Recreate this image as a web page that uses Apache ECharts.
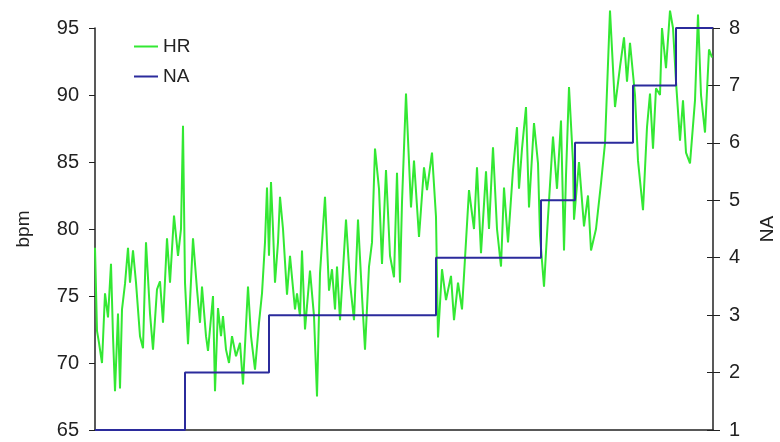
<!DOCTYPE html>
<html>
<head>
<meta charset="utf-8">
<script src="https://cdn.jsdelivr.net/npm/echarts@6/dist/echarts.min.js"></script>
<style>
    html, body { margin: 0; padding: 0; background: #fff; }
    #hr-chart { width: 780px; height: 442px; }
</style>
</head>
<body>
<div id="hr-chart"></div>
<script>
// time in samples, HR in bpm
var hrTime = [0, 2, 4, 7, 10, 13, 16, 18, 20, 23, 25, 27, 30, 33, 35, 38, 41, 45, 48, 51,
    55, 58, 62, 65, 68, 72, 75, 79, 83, 86, 88, 90, 93, 98, 102, 105, 107, 111, 113, 118,
    120, 123, 126, 128, 131, 134, 137, 141, 145, 148, 153, 156, 160, 164, 167, 170, 172, 174, 176, 178,
    180, 183, 185, 188, 192, 195, 197, 200, 202, 205, 207, 210, 215, 219, 222, 225, 230, 234, 237, 240,
    242, 245, 251, 255, 259, 263, 267, 270, 274, 277, 280, 284, 287, 291, 295, 299, 302, 305, 307, 311,
    316, 319, 324, 329, 332, 337, 341, 343, 347, 351, 356, 359, 363, 367, 374, 379, 382, 386, 391, 394,
    398, 402, 406, 409, 413, 418, 422, 424, 427, 431, 434, 439, 443, 445, 449, 453, 458, 462, 466, 469,
    471, 474, 478, 479, 484, 489, 493, 496, 501, 506, 510, 515, 520, 525, 529, 532, 535, 540, 543, 548,
    552, 555, 558, 561, 565, 567, 571, 575, 578, 581, 585, 588, 591, 595, 600, 603, 606, 610, 614, 617];
var hrValues = [78.6, 72.4, 71.5, 70.0, 75.2, 73.4, 77.4, 72.0, 67.9, 73.7, 68.1, 74.0, 75.9, 78.6, 76.0, 78.4, 76.0, 72.0, 71.1, 79.0,
    73.7, 71.0, 75.5, 76.1, 73.0, 79.3, 76.0, 81.0, 78.0, 80.0, 87.7, 76.0, 71.4, 79.3, 75.5, 73.0, 75.7, 72.0, 70.9, 75.0,
    67.9, 74.1, 72.0, 73.5, 71.0, 70.0, 72.0, 70.5, 71.5, 68.4, 75.7, 72.0, 69.5, 73.0, 75.2, 79.0, 83.1, 78.0, 83.5, 80.0,
    76.0, 79.0, 82.4, 80.0, 75.1, 78.0, 78.0, 74.0, 75.2, 73.5, 78.4, 72.5, 76.9, 73.5, 67.5, 76.7, 82.4, 75.4, 77.0, 74.0,
    77.2, 73.2, 80.7, 76.0, 73.2, 80.7, 75.0, 71.0, 77.2, 79.0, 86.0, 83.0, 77.4, 84.4, 78.0, 76.4, 84.2, 76.0, 82.0, 90.1,
    81.6, 85.1, 79.4, 84.6, 82.9, 85.7, 80.9, 71.9, 77.0, 74.7, 76.5, 73.2, 76.0, 74.0, 82.9, 80.0, 84.6, 78.2, 84.3, 80.0,
    86.1, 80.0, 77.2, 83.1, 79.0, 84.4, 87.6, 83.0, 86.0, 89.1, 81.6, 87.9, 84.9, 79.5, 75.7, 80.9, 86.9, 83.0, 88.1, 78.4,
    84.0, 90.6, 85.0, 80.7, 85.0, 80.2, 82.5, 78.4, 80.0, 83.4, 86.4, 96.3, 89.1, 92.1, 94.3, 91.0, 93.9, 90.0, 85.1, 81.4,
    87.6, 90.1, 86.0, 90.5, 90.0, 95.0, 92.0, 96.3, 95.0, 91.0, 86.6, 89.6, 85.7, 84.9, 89.6, 96.0, 90.0, 87.2, 93.4, 92.8];

// NA level and the time it starts
var naTime = [0, 90, 174, 341, 446, 480, 538, 581, 618];
var naValues = [1, 2, 3, 4, 5, 6, 7, 8, 8];

var bpmTicks = [65, 70, 75, 80, 85, 90, 95];
var naTicks = [1, 2, 3, 4, 5, 6, 7, 8];

var hrChart = echarts.init(document.getElementById('hr-chart'));

function pairs(xs, ys) {
    var out = [];
    for (var i = 0; i < xs.length; i++) {
        out.push([xs[i], ys[i]]);
    }
    return out;
}

var fontName = 'Liberation Sans';

hrChart.setOption({
    animation: false,
    backgroundColor: '#fff',
    grid: {
        left: 95,
        right: 67,
        top: 28,
        bottom: 12,
        outerBoundsMode: 'none'
    },
    legend: {
        orient: 'vertical',
        left: 129,
        top: 32,
        itemWidth: 24,
        itemHeight: 2,
        itemGap: 11,
        icon: 'rect',
        textStyle: { fontFamily: fontName, fontSize: 19, color: '#222' },
        data: ['HR', 'NA']
    },
    xAxis: {
        type: 'value',
        min: 0,
        max: 618,
        axisLine: { lineStyle: { color: '#222', width: 1.5 } },
        axisTick: { show: false },
        axisLabel: { show: false },
        splitLine: { show: false }
    },
    yAxis: [{
        type: 'value',
        min: bpmTicks[0],
        max: bpmTicks[bpmTicks.length - 1],
        interval: 5,
        name: 'bpm',
        nameLocation: 'middle',
        nameRotate: 90,
        nameGap: 62,
        nameTextStyle: { fontFamily: fontName, fontSize: 19, color: '#222' },
        axisLine: { show: true, lineStyle: { color: '#222', width: 1.5 } },
        axisTick: { show: true, length: 6, lineStyle: { color: '#222' } },
        axisLabel: { fontFamily: fontName, fontSize: 20, color: '#222', margin: 16 },
        splitLine: { show: false }
    }, {
        type: 'value',
        position: 'right',
        min: naTicks[0],
        max: naTicks[naTicks.length - 1],
        interval: 1,
        name: 'NA',
        nameLocation: 'middle',
        nameRotate: 90,
        nameGap: 45,
        nameTextStyle: { fontFamily: fontName, fontSize: 19, color: '#222' },
        axisLine: { show: true, lineStyle: { color: '#222', width: 1.5 } },
        axisTick: { show: true, length: 7, lineStyle: { color: '#222' } },
        axisLabel: { fontFamily: fontName, fontSize: 20, color: '#222', margin: 16 },
        splitLine: { show: false }
    }, {
        // inner half of the crossing ticks on the right
        type: 'value',
        position: 'right',
        min: naTicks[0],
        max: naTicks[naTicks.length - 1],
        interval: 1,
        axisLine: { show: false },
        axisTick: { show: true, inside: true, length: 6, lineStyle: { color: '#222' } },
        axisLabel: { show: false },
        splitLine: { show: false }
    }],
    series: [{
        name: 'HR',
        type: 'line',
        yAxisIndex: 0,
        clip: false,
        showSymbol: false,
        data: pairs(hrTime, hrValues),
        itemStyle: { color: '#33e833' },
        lineStyle: { color: '#33e833', width: 2 }
    }, {
        name: 'NA',
        type: 'line',
        yAxisIndex: 1,
        step: 'end',
        showSymbol: false,
        data: pairs(naTime, naValues),
        itemStyle: { color: '#2b2b9c' },
        lineStyle: { color: '#2b2b9c', width: 2 },
        z: 3
    }]
});

window.onresize = function () {
    hrChart.resize();
};
</script>
</body>
</html>
